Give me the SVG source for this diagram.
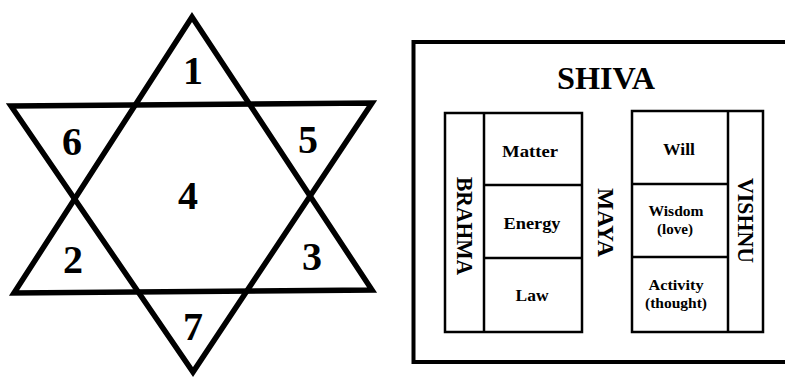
<svg xmlns="http://www.w3.org/2000/svg" width="785" height="379" viewBox="0 0 785 379">
<style>
.star{fill:none;stroke:#000;stroke-width:5.5;stroke-linejoin:miter;stroke-miterlimit:10}
.num{font-family:"Liberation Serif",serif;font-weight:bold;font-size:40px;text-anchor:middle;fill:#000}
.box{fill:none;stroke:#000;stroke-width:2.5}
.outer{fill:none;stroke:#000;stroke-width:4}
.cell{font-family:"Liberation Serif",serif;font-weight:bold;font-size:17px;text-anchor:middle;fill:#000}
.cell2{font-family:"Liberation Serif",serif;font-weight:bold;font-size:15.5px;text-anchor:middle;fill:#000}
.big{font-family:"Liberation Serif",serif;font-weight:bold;font-size:32px;text-anchor:middle;fill:#000}
.vert{font-family:"Liberation Serif",serif;font-weight:bold;font-size:23px;text-anchor:middle;fill:#000}
</style>
<rect width="785" height="379" fill="#fff"/>
<g id="star">
<polygon class="star" points="192,17 14,293 372,290"/>
<polygon class="star" points="11,106 372,103 193,372"/>
</g>
<g id="star-numbers">
<text class="num" x="193" y="84">1</text>
<text class="num" x="72" y="155">6</text>
<text class="num" x="308" y="153">5</text>
<text class="num" x="188" y="209">4</text>
<text class="num" x="73" y="273">2</text>
<text class="num" x="312" y="270">3</text>
<text class="num" x="193" y="340">7</text>
</g>
<g id="shiva">
<path class="outer" d="M785,42 H413.5 V362 H785"/>
<text class="big" x="606" y="89" textLength="98" lengthAdjust="spacingAndGlyphs">SHIVA</text>
</g>
<g id="brahma">
<rect class="box" x="445" y="113" width="137" height="219"/>
<line class="box" x1="484" y1="113" x2="484" y2="332"/>
<line class="box" x1="484" y1="185" x2="582" y2="185"/>
<line class="box" x1="484" y1="258" x2="582" y2="258"/>
<text class="vert" transform="translate(457,226) rotate(90)" x="0" y="0" textLength="98" lengthAdjust="spacingAndGlyphs">BRAHMA</text>
<text class="cell" x="530" y="157" textLength="56" lengthAdjust="spacingAndGlyphs">Matter</text>
<text class="cell" x="532" y="229" textLength="57" lengthAdjust="spacingAndGlyphs">Energy</text>
<text class="cell" x="532" y="301" textLength="33" lengthAdjust="spacingAndGlyphs">Law</text>
</g>
<g id="maya">
<text class="vert" transform="translate(598,222.5) rotate(90)" x="0" y="0" textLength="69" lengthAdjust="spacingAndGlyphs">MAYA</text>
</g>
<g id="vishnu">
<rect class="box" x="632" y="111" width="131" height="221"/>
<line class="box" x1="728" y1="111" x2="728" y2="332"/>
<line class="box" x1="632" y1="184" x2="728" y2="184"/>
<line class="box" x1="632" y1="257" x2="728" y2="257"/>
<text class="vert" transform="translate(738,220.5) rotate(90)" x="0" y="0" textLength="85" lengthAdjust="spacingAndGlyphs">VISHNU</text>
<text class="cell" x="679" y="155" textLength="32" lengthAdjust="spacingAndGlyphs">Will</text>
<text class="cell2" x="676" y="216" textLength="55" lengthAdjust="spacingAndGlyphs">Wisdom</text>
<text class="cell2" x="675" y="234" textLength="36" lengthAdjust="spacingAndGlyphs">(love)</text>
<text class="cell2" x="676" y="290" textLength="55" lengthAdjust="spacingAndGlyphs">Activity</text>
<text class="cell2" x="676" y="308" textLength="62" lengthAdjust="spacingAndGlyphs">(thought)</text>
</g>
</svg>
